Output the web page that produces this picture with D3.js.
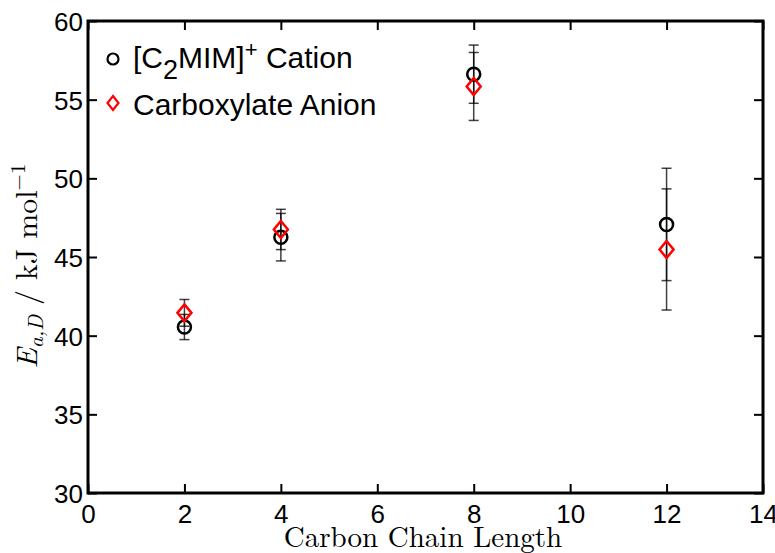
<!DOCTYPE html>
<html><head><meta charset="utf-8">
<script src="https://cdn.jsdelivr.net/npm/d3@7"></script>
<style>body{margin:0;background:#fff}svg{display:block}</style>
</head><body>
<svg id="c" width="775" height="553"></svg>
<script>
const chainLength = [2, 4, 8, 12];
const cationMean = [40.55, 46.26, 56.62, 47.07];
const cationErr  = [0.80, 1.51, 1.85, 3.57];
const anionMean  = [41.45, 46.75, 55.84, 45.48];
const anionErr   = [0.85, 1.28, 2.16, 3.85];
const xTicks = [0, 2, 4, 6, 8, 10, 12, 14];
const yTicks = [30, 35, 40, 45, 50, 55, 60];

const svg = d3.select("#c");
const L = 88, R = 763, T = 21, B = 493;
const x = d3.scaleLinear().domain([0, 14]).range([L, R]);
const y = d3.scaleLinear().domain([30, 60]).range([B, T]);
const sans = "Liberation Sans, Arial, Helvetica, sans-serif";
const serif = "Latin Modern Roman, CMU Serif, Liberation Serif, DejaVu Serif, serif";

// axes with inward ticks
const tk = 9;
const gB = svg.append("g").attr("transform", `translate(0,${B})`)
  .call(d3.axisBottom(x).tickValues(xTicks).tickSize(-tk).tickPadding(11).tickFormat(d3.format("d")));
const gT = svg.append("g").attr("transform", `translate(0,${T})`)
  .call(d3.axisTop(x).tickValues(xTicks).tickSize(-tk).tickFormat(""));
const gL = svg.append("g").attr("transform", `translate(${L},0)`)
  .call(d3.axisLeft(y).tickValues(yTicks).tickSize(-tk).tickPadding(5).tickFormat(d3.format("d")));
const gR = svg.append("g").attr("transform", `translate(${R},0)`)
  .call(d3.axisRight(y).tickValues(yTicks).tickSize(-tk).tickFormat(""));
[gB, gT, gL, gR].forEach(g => {
  g.select(".domain").remove();
  g.selectAll(".tick line").attr("stroke", "#000").attr("stroke-width", 2);
  g.selectAll(".tick text").attr("fill", "#000").style("font-family", sans).style("font-size", "26px");
});
gB.selectAll(".tick text").attr("dy", "0.72em");
gL.selectAll(".tick text").attr("dy", "0.36em");

svg.append("rect").attr("x", L).attr("y", T).attr("width", R - L).attr("height", B - T)
  .attr("fill", "none").attr("stroke", "#000").attr("stroke-width", 3);

// error bars
const cap = 5;
function errBars(mean, err) {
  const g = svg.append("g").attr("stroke", "#000").attr("stroke-width", 1.5).attr("stroke-opacity", 0.75);
  chainLength.forEach((c, i) => {
    const cx = x(c), y0 = y(mean[i] - err[i]), y1 = y(mean[i] + err[i]);
    g.append("line").attr("x1", cx).attr("x2", cx).attr("y1", y0).attr("y2", y1);
    g.append("line").attr("x1", cx - cap).attr("x2", cx + cap).attr("y1", y0).attr("y2", y0);
    g.append("line").attr("x1", cx - cap).attr("x2", cx + cap).attr("y1", y1).attr("y2", y1);
  });
}
errBars(cationMean, cationErr);
errBars(anionMean, anionErr);

const diamond = (cx, cy, w, h) => `M${cx},${cy - h}L${cx + w},${cy}L${cx},${cy + h}L${cx - w},${cy}Z`;

// markers
svg.append("g").selectAll("circle").data(chainLength).join("circle")
  .attr("cx", d => x(d)).attr("cy", (d, i) => y(cationMean[i])).attr("r", 6.5)
  .attr("fill", "none").attr("stroke", "#000").attr("stroke-width", 2.5);
svg.append("g").selectAll("path").data(chainLength).join("path")
  .attr("d", (d, i) => diamond(x(d), y(anionMean[i]), 7, 8.5))
  .attr("fill", "none").attr("stroke", "#ff0000").attr("stroke-width", 2.5);

// legend
svg.append("circle").attr("cx", 113).attr("cy", 59).attr("r", 5.5)
  .attr("fill", "none").attr("stroke", "#000").attr("stroke-width", 2.2);
svg.append("path").attr("d", diamond(113, 103, 5.5, 7))
  .attr("fill", "none").attr("stroke", "#ff0000").attr("stroke-width", 2.2);
const t1 = svg.append("text").attr("x", 133).attr("y", 68).style("font-family", sans).style("font-size", "30px");
t1.append("tspan").text("[C");
t1.append("tspan").attr("dy", 11).style("font-size", "27px").text("2");
t1.append("tspan").attr("dy", -11).text("MIM]");
t1.append("tspan").attr("dy", -11).style("font-size", "22px").text("+");
t1.append("tspan").attr("dy", 11).text(" Cation");
svg.append("text").attr("x", 133).attr("y", 115).style("font-family", sans).style("font-size", "30px")
  .text("Carboxylate Anion");

// axis titles
svg.append("text").attr("x", 423).attr("y", 547).attr("text-anchor", "middle")
  .style("font-family", serif).style("font-size", "29px").text("Carbon Chain Length");
const yl = svg.append("text").attr("transform", "translate(37,266) rotate(-90)").attr("text-anchor", "middle")
  .style("font-family", serif).style("font-size", "30px");
yl.append("tspan").style("font-style", "italic").text("E");
yl.append("tspan").attr("dy", 6).style("font-style", "italic").style("font-size", "21px").text("a,D");
yl.append("tspan").attr("dy", -6).text(" / kJ mol");
yl.append("tspan").attr("dy", -12).style("font-size", "21px").text("\u22121");
</script>
</body></html>
